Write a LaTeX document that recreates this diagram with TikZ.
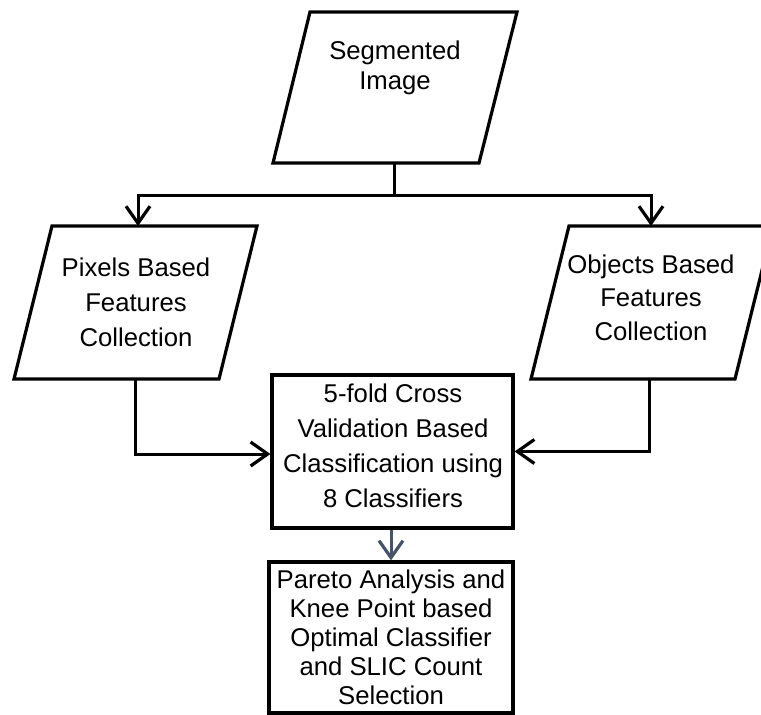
\documentclass[tikz,border=0pt]{standalone}
\usepackage{fontspec}
\setmainfont{Liberation Sans}
\usetikzlibrary{arrows.meta}
\definecolor{arrowgray}{HTML}{44546A}
\tikzset{
  shapeline/.style={line width=3.2pt, line join=miter},
  conn/.style={line width=3pt},
  arr/.style={conn, -{Straight Barb[length=17pt,width=24pt,line width=3.2pt]}},
  txt/.style={align=center, inner sep=0pt, font=\fontsize{25.7}{30}\selectfont},
  txtwide/.style={align=center, inner sep=0pt, font=\fontsize{25.7}{35}\selectfont},
  boxnode/.style={draw, shapeline, rectangle, inner sep=0pt}
}
\begin{document}
\begin{tikzpicture}[x=1pt,y=-1pt]
\useasboundingbox (0,0) rectangle (761,715);
\clip (0,0) rectangle (761,715);
% Segmented image
\draw[shapeline] (310,12) -- (517,12) -- (479,163) -- (273,163) -- cycle;
\node[txt] (seg) at (395,68) {Segmented\\Image};
\coordinate (segb) at (394,163);
\coordinate (junc) at (394,195);
% Pixels
\draw[shapeline] (52,226) -- (257,226) -- (219,379) -- (14,379) -- cycle;
\node[txtwide] (pix) at (136,302) {Pixels Based\\Features\\Collection};
\coordinate (pixt) at (138,226);
\coordinate (pixb) at (135,379);
% Objects
\draw[shapeline] (569,226) -- (773,226) -- (735,379) -- (531,379) -- cycle;
\node[font=\fontsize{25.7}{33.5}\selectfont, align=center, inner sep=0pt] (obj) at (651,297.5) {Objects Based\\Features\\Collection};
\coordinate (objt) at (651,226);
\coordinate (objb) at (649,379);
% Middle box
\node[boxnode, minimum width=241pt, minimum height=153pt] (mid) at (392.5,451.5) {};
\node[txtwide] (midt) at (393,445.5) {5-fold Cross\\Validation Based\\Classification using\\8 Classifiers};
% Bottom box
\node[boxnode, minimum width=244pt, minimum height=151pt, txt, font=\fontsize{25.7}{29}\selectfont] (bot) at (391,637.5) {Pareto Analysis and\\Knee Point based\\Optimal Classifier\\and SLIC Count\\Selection};
% Connectors
\draw[conn] (segb) -- (junc);
\draw[arr] (junc) -| (pixt);
\draw[arr] (junc) -| (objt);
\draw[arr] (pixb) |- ([yshift=-2.5pt]mid.west);
\draw[arr] (objb) |- (mid.east);
\draw[arr, draw=arrowgray] (mid.south -| bot.north) -- (bot.north);
\end{tikzpicture}
\end{document}
